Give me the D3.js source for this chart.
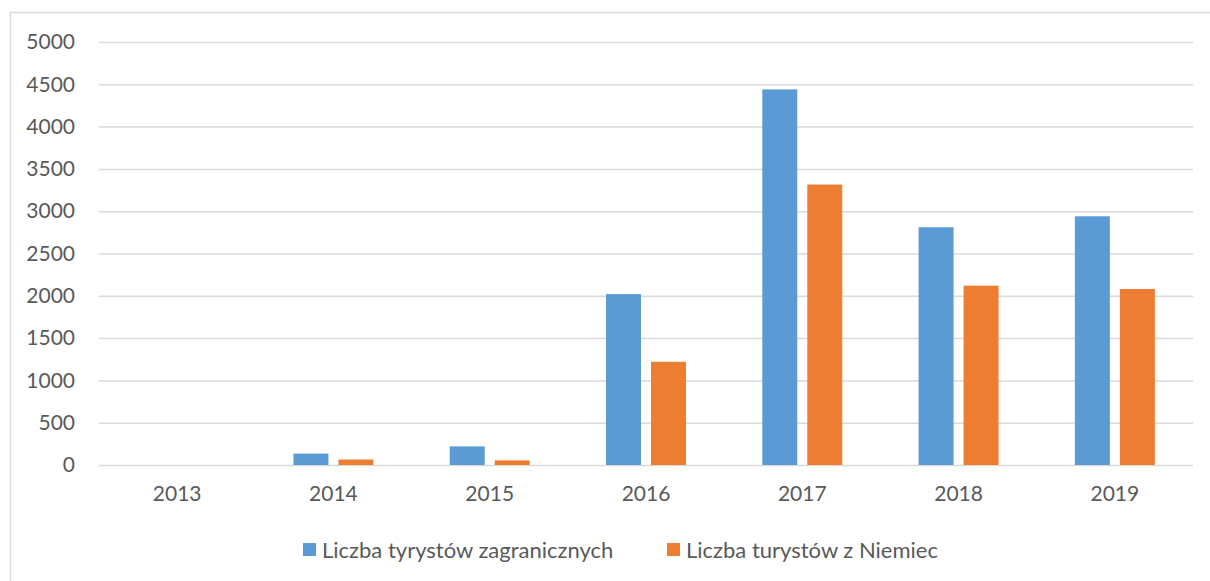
<!DOCTYPE html>
<html>
<head>
<meta charset="utf-8">
<script src="https://cdn.jsdelivr.net/npm/d3@7"></script>
<style>
  body { margin: 0; background: #fff; }
  text { font-family: Lato, "Open Sans", sans-serif; fill: #595959; }
</style>
</head>
<body>
<svg id="chart" width="1210" height="581"></svg>
<script>
// values
var years = ["2013", "2014", "2015", "2016", "2017", "2018", "2019"];
var foreignTourists = [0, 135, 220, 2020, 4440, 2810, 2940];
var germanTourists = [0, 65, 55, 1220, 3315, 2120, 2080];
var seriesNames = ["Liczba tyrystów zagranicznych", "Liczba turystów z Niemiec"];
var seriesColors = ["#5b9bd5", "#ed7d31"];
var yTicks = [0, 500, 1000, 1500, 2000, 2500, 3000, 3500, 4000, 4500, 5000];

var svg = d3.select("#chart");

// outer chart frame (right and bottom edges run off the picture)
svg.append("rect")
  .attr("x", 10.5)
  .attr("y", 12.5)
  .attr("width", 1260)
  .attr("height", 640)
  .attr("fill", "none")
  .attr("stroke", "#d9d9d9")
  .attr("stroke-width", 1.5);

var margin = {left: 99, top: 42, right: 17, bottom: 116};
var width = 1210 - margin.left - margin.right;
var height = 581 - margin.top - margin.bottom;

var chartGroup = svg.append("g")
  .attr("transform", `translate(${margin.left}, ${margin.top})`);

var xScale = d3.scaleBand()
  .domain(years)
  .range([0, width]);

var yScale = d3.scaleLinear()
  .domain([0, 5000])
  .range([height, 0]);

// gridlines + y labels
var leftAxis = d3.axisLeft(yScale)
  .tickValues(yTicks)
  .tickSize(-width)
  .tickPadding(24)
  .tickFormat(d3.format("d"));

var yAxis = chartGroup.append("g").call(leftAxis);
yAxis.select(".domain").remove();
yAxis.selectAll("line")
  .attr("stroke", "#d9d9d9")
  .attr("stroke-width", 1.5);
yAxis.selectAll("text")
  .style("font-size", "21px")
  .attr("fill", "#595959");

// x labels
var bottomAxis = d3.axisBottom(xScale).tickSize(0).tickPadding(21);
var xAxis = chartGroup.append("g")
  .attr("transform", `translate(0, ${height})`)
  .call(bottomAxis);
xAxis.select(".domain").remove();
xAxis.selectAll("text")
  .style("font-size", "21px")
  .attr("fill", "#595959");

// bars
var barWidth = 35;
var barGap = 10;
var seriesData = [foreignTourists, germanTourists];

seriesData.forEach(function(values, i) {
  chartGroup.append("g")
    .selectAll("rect")
    .data(values)
    .enter()
    .append("rect")
    .attr("x", (d, j) => xScale(years[j]) + xScale.bandwidth() / 2 - barWidth - barGap / 2 + i * (barWidth + barGap))
    .attr("y", d => yScale(d))
    .attr("width", barWidth)
    .attr("height", d => height - yScale(d))
    .attr("fill", seriesColors[i]);
});

// legend
var legend = svg.append("g").attr("transform", "translate(303, 550)");
var legendX = [0, 364];
seriesNames.forEach(function(name, i) {
  var item = legend.append("g").attr("transform", `translate(${legendX[i]}, 0)`);
  item.append("rect")
    .attr("x", 0)
    .attr("y", -7)
    .attr("width", 13)
    .attr("height", 13)
    .attr("fill", seriesColors[i]);
  item.append("text")
    .attr("x", 19)
    .attr("y", 0)
    .attr("dy", "0.35em")
    .style("font-size", "22px")
    .text(name);
});
</script>
</body>
</html>
